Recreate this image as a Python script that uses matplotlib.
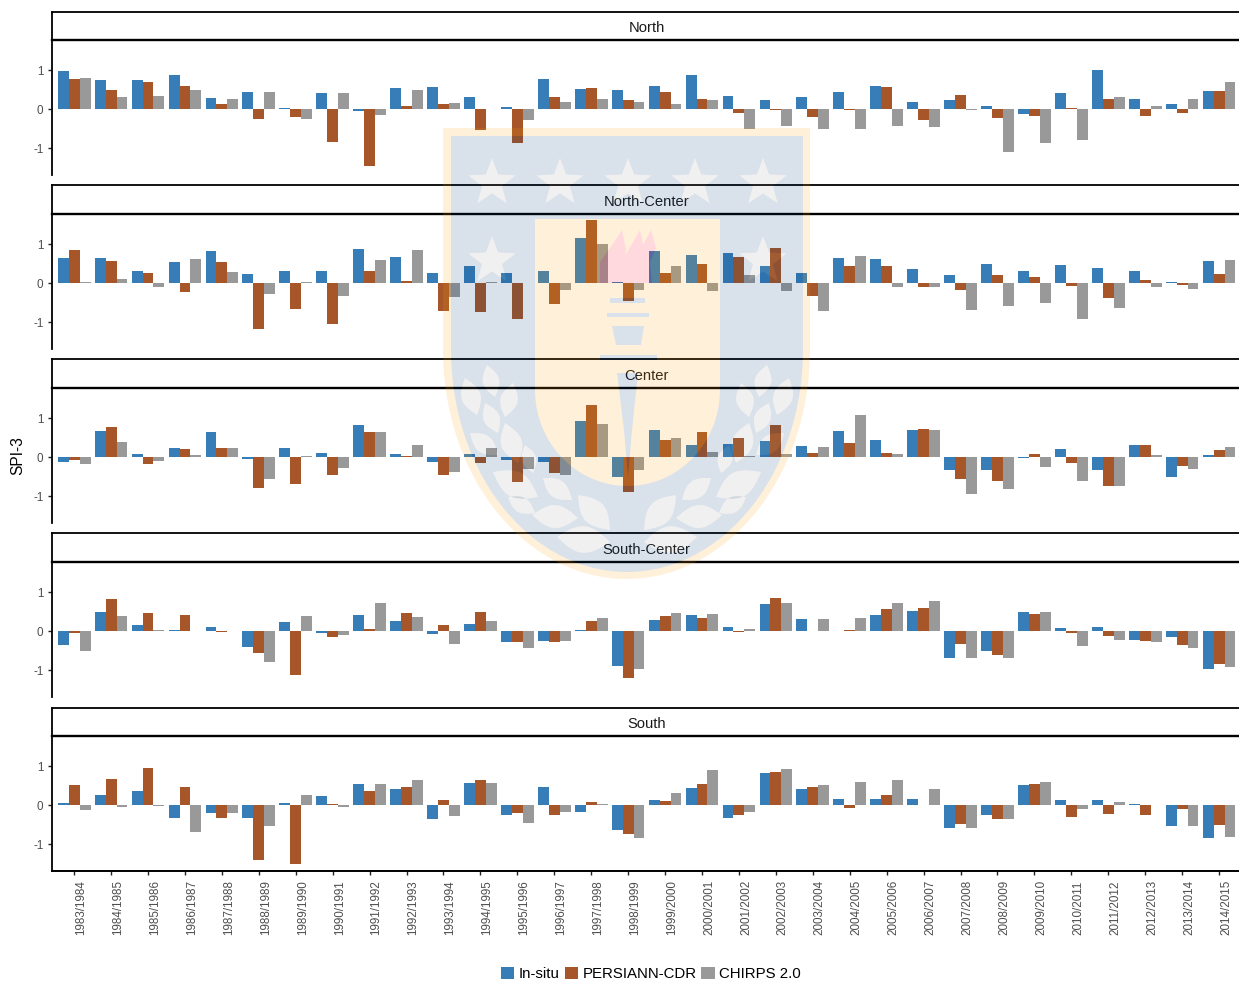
import numpy as np
import matplotlib
matplotlib.use("Agg")
import matplotlib.pyplot as plt
from matplotlib.patches import Patch, PathPatch
from matplotlib.path import Path
from matplotlib.transforms import ScaledTranslation

plt.rcParams["font.family"] = ["Liberation Sans", "DejaVu Sans"]

# DATA
seasons = [f"{y}/{y + 1}" for y in range(1983, 2015)]
regions = ["North", "North-Center", "Center", "South-Center", "South"]
products = ["In-situ", "PERSIANN-CDR", "CHIRPS 2.0"]

north_insitu = [.97, .74, .75, .87, .28, .43, .03, .41, -.06, .54, .56, .32, .05, .77, .51, .50,
                .60, .88, .34, .24, .31, .44, .60, .18, .23, .08, -.13, .41, 1.0, .26, .14, .47]
north_persiann = [.78, .48, .69, .59, .12, -.26, -.20, -.85, -1.47, .07, .12, -.53, -.88, .32, .55, .24,
                  .43, .26, -.11, -.02, -.21, -.02, .57, -.29, .37, -.23, -.18, .03, .26, -.17, -.09, .46]
north_chirps = [.80, .31, .33, .48, .26, .43, -.26, .41, -.16, .48, .16, -.01, -.27, .19, .26, .19,
                .12, .24, -.50, -.44, -.50, -.50, -.43, -.46, -.03, -1.09, -.87, -.79, .31, .08, .26, .70]

ncenter_insitu = [.64, .65, .32, .55, .81, .23, .32, .31, .88, .68, .26, .44, .27, .31, 1.15, .04,
                  .83, .72, .76, .43, .26, .65, .62, .36, .21, .49, .31, .47, .39, .31, .03, .56]
ncenter_persiann = [.84, .57, .26, -.23, .53, -1.19, -.67, -1.05, .32, .06, -.71, -.75, -.91, -.53, 1.61, -.46,
                    .26, .50, .66, .89, -.32, .45, .44, -.09, -.18, .21, .15, -.07, -.38, .09, -.06, .24]
ncenter_chirps = [.02, .10, -.09, .62, .28, -.29, .02, -.33, .59, .85, -.36, .03, -.01, -.18, 1.0, -.17,
                  .44, -.20, .21, -.20, -.72, .69, -.09, -.09, -.68, -.60, -.51, -.92, -.63, -.10, -.16, .60]

center_insitu = [-.12, .68, .08, .24, .65, -.05, .24, .10, .82, .08, -.12, .08, -.07, -.13, .92, -.51,
                 .69, .32, .34, .41, .29, .68, .43, .70, -.33, -.34, -.02, .21, -.32, .31, -.52, .05]
center_persiann = [-.08, .78, -.18, .21, .22, -.80, -.70, -.47, .63, .03, -.47, -.16, -.65, -.42, 1.33, -.90,
                   .43, .64, .50, .81, .11, .37, .10, .72, -.57, -.62, .08, -.15, -.74, .31, -.22, .18]
center_chirps = [-.17, .39, -.09, .05, .22, -.55, .02, -.27, .65, .30, -.39, .22, -.31, -.46, .85, -.32,
                 .50, .14, .04, .09, .26, 1.07, .09, .69, -.95, -.83, -.25, -.61, -.74, .05, -.30, .25]

scenter_insitu = [-.35, .48, .16, .03, .10, -.41, .22, -.05, .40, .26, -.08, .19, -.29, -.26, .03, -.89,
                  .28, .42, .10, .70, .30, .01, .42, .51, -.70, -.51, .50, .07, .11, -.22, -.14, -.97]
scenter_persiann = [-.05, .82, .46, .42, -.03, -.56, -1.12, -.15, .06, .47, .15, .49, -.27, -.29, .27, -1.21,
                    .38, .33, -.02, .85, -.01, .04, .56, .60, -.34, -.62, .45, -.06, -.12, -.26, -.35, -.84]
scenter_chirps = [-.50, .39, .02, 0, 0, -.79, .38, -.11, .73, .35, -.33, .26, -.43, -.25, .34, -.97,
                  .46, .44, .05, .73, .32, .33, .73, .78, -.70, -.70, .50, -.38, -.22, -.27, -.44, -.92]

south_insitu = [.05, .27, .35, -.33, -.20, -.33, .06, .22, .54, .42, -.35, .56, -.26, .46, -.19, -.65,
                .12, .43, -.33, .82, .41, .15, .15, .16, -.59, -.26, .52, .12, .14, .04, -.53, -.84]
south_persiann = [.52, .66, .94, .46, -.32, -1.42, -1.51, .03, .35, .47, .14, .65, -.20, -.25, .08, -.75,
                  .10, .53, -.26, .86, .46, -.08, .25, 0, -.49, -.35, .54, -.31, -.24, -.25, -.09, -.50]
south_chirps = [-.13, -.05, -.03, -.68, -.21, -.54, .25, -.04, .55, .63, -.28, .57, -.45, -.18, .02, -.85,
                .31, .89, -.19, .92, .52, .59, .64, .40, -.58, -.36, .60, -.10, .08, .01, -.53, -.83]

region_series = [
    [north_insitu, north_persiann, north_chirps],
    [ncenter_insitu, ncenter_persiann, ncenter_chirps],
    [center_insitu, center_persiann, center_chirps],
    [scenter_insitu, scenter_persiann, scenter_chirps],
    [south_insitu, south_persiann, south_chirps],
]

# STYLE
W, H = 1239, 983
colors = ["#377EB8", "#A65628", "#999999"]
axis_left = 52
strip_tops = [12, 185, 359, 533, 708]
panel_tops = [40, 214, 388, 562, 736]
panel_h = 135
bar_w = 0.295
x_pos = np.arange(len(seasons))


def px_axes(fig, x0, y0, x1, y1, **kw):
    return fig.add_axes([x0 / W, 1 - y1 / H, (x1 - x0) / W, (y1 - y0) / H], **kw)


fig = plt.figure(figsize=(W / 100, H / 100), dpi=100, facecolor="white")

# PANELS
for i, region in enumerate(regions):
    top = panel_tops[i]

    strip = px_axes(fig, axis_left, strip_tops[i], W + 5, top)
    strip.set_xticks([])
    strip.set_yticks([])
    strip.spines["right"].set_visible(False)
    for side in ["top", "left"]:
        strip.spines[side].set_linewidth(1.3)
    strip.spines["bottom"].set_linewidth(1.7)
    fig.text(646.5 / W, 1 - (top - 12.5) / H, region, ha="center", va="center",
             fontsize=10.6, color="#1a1a1a")

    ax = px_axes(fig, axis_left, top, W, top + panel_h)
    ax.patch.set_alpha(0)
    for k, vals in enumerate(region_series[i]):
        ax.bar(x_pos + (k - 1) * bar_w, vals, width=bar_w, color=colors[k], linewidth=0)
    ax.set_xlim(-0.6, 31.54)
    ax.set_ylim(-1.69, 1.77)
    ax.set_yticks([-1, 0, 1])
    ax.set_yticklabels(["-1", "0", "1"])
    ax.tick_params(axis="y", length=3.2, width=1.0, color="#222222", labelcolor="#4d4d4d",
                   labelsize=8.4, pad=3)
    for side in ["top", "right"]:
        ax.spines[side].set_visible(False)
    ax.spines["left"].set_linewidth(1.3)

    if i == len(regions) - 1:
        ax.spines["bottom"].set_linewidth(1.4)
        ax.set_xticks(x_pos)
        ax.set_xticklabels(seasons, rotation=90, ha="center", va="top")
        ax.tick_params(axis="x", length=3.2, width=1.0, color="#222222", labelcolor="#4d4d4d",
                       labelsize=8.4, pad=3.4)
        shift = ScaledTranslation(7 / 100, 0, fig.dpi_scale_trans)
        for lab in ax.get_xticklabels():
            lab.set_transform(lab.get_transform() + shift)
    else:
        ax.spines["bottom"].set_visible(False)
        ax.set_xticks([])

fig.text(18 / W, 1 - 456 / H, "SPI-3", rotation=90, ha="center", va="center", fontsize=11.2)

# LEGEND
handles = [Patch(facecolor=c, edgecolor="none", label=p) for c, p in zip(colors, products)]
fig.legend(handles=handles, ncol=3, loc="center", bbox_to_anchor=(651 / W, 1 - 974 / H),
           frameon=False, fontsize=10.85, handlelength=0.87, handleheight=0.85,
           handletextpad=0.3, columnspacing=0.33, borderpad=0, borderaxespad=0)


# WATERMARK (university crest laid over the whole figure, pixel coordinates)
def oriented(pts, ccw=True):
    pts = np.asarray(pts, dtype=float)
    x, y = pts[:, 0], pts[:, 1]
    area = np.sum(x * np.roll(y, -1) - np.roll(x, -1) * y)
    if (area > 0) != ccw:
        pts = pts[::-1]
    return Path(np.vstack([pts, pts[:1]]), closed=True)


def shield(x0, x1, top, mid, bottom):
    cx, a = (x0 + x1) / 2, (x1 - x0) / 2
    t = np.linspace(0, np.pi, 60)
    arc = np.column_stack([cx + a * np.cos(t), mid + (bottom - mid) * np.sin(t)])
    return np.vstack([[[x0, top], [x1, top]], arc])


def star(cx, cy, r):
    ang = -np.pi / 2 + np.arange(10) * np.pi / 5
    rad = np.where(np.arange(10) % 2 == 0, r, r * 0.42)
    return np.column_stack([cx + rad * np.cos(ang), cy + rad * np.sin(ang)])


def leaf(x0, y0, x1, y1, fat=0.25):
    t = np.linspace(0, 1, 16)
    d = np.array([x1 - x0, y1 - y0])
    n = np.array([-d[1], d[0]])
    base = np.array([x0, y0]) + t[:, None] * d
    bulge = (fat * np.sin(np.pi * t))[:, None] * n
    return np.vstack([base + bulge, (base - bulge)[::-1][1:-1]])


outer_s = shield(443, 810, 128, 350, 579)
blue_s = shield(451, 803, 136, 350, 572)
inner_s = shield(535, 720, 219, 390, 486)

star_pts = [star(x, 183, 25) for x in [492, 560, 628, 695, 763]]
star_pts += [star(492, 261, 25), star(763, 261, 25)]

# leaves of the left branch, the right one mirrors them
left_leaves = [(487, 365, 495, 397), (465, 378, 477, 415), (513, 383, 505, 417), (485, 403, 498, 433),
               (505, 423, 518, 463), (470, 433, 498, 455), (525, 445, 533, 473), (493, 472, 538, 497),
               (543, 478, 572, 500), (508, 497, 535, 513), (532, 515, 578, 518), (578, 495, 610, 530),
               (557, 537, 610, 542)]
leaf_pts = []
for x0, y0, x1, y1 in left_leaves:
    leaf_pts.append(leaf(x0, y0, x1, y1))
    leaf_pts.append(leaf(1254 - x0, y0, 1254 - x1, y1))

# one flame outline, the cream field is left open underneath it
flame_pts = [
    [(600, 283), (600, 262), (612, 245), (622, 230), (626, 250), (625, 256), (640, 230), (643, 245),
     (651, 230), (656, 248), (650, 262), (652, 283)],
]
torch_pts = [
    [(610, 298), (645, 298), (645, 303), (610, 303)],
    [(607, 313), (649, 313), (649, 317), (607, 317)],
    [(612, 326), (644, 326), (641, 345), (616, 345)],
    [(600, 355), (657, 355), (657, 360), (600, 360)],
    [(617, 373), (638, 373), (632, 430), (628, 477), (624, 430)],
]

cream_paths = [oriented(outer_s), oriented(blue_s, ccw=False), oriented(inner_s)]
cream_paths += [oriented(p, ccw=False) for p in flame_pts + torch_pts]
blue_paths = [oriented(blue_s), oriented(inner_s, ccw=False)]
blue_paths += [oriented(p, ccw=False) for p in star_pts + leaf_pts]
blue_paths += [oriented(p) for p in torch_pts]
pale_paths = [oriented(p) for p in star_pts + leaf_pts]
flame_paths = [oriented(p) for p in flame_pts]

over = fig.add_axes([0, 0, 1, 1], zorder=10)
over.set_xlim(0, W)
over.set_ylim(H, 0)
over.axis("off")
over.patch.set_alpha(0)
over.add_patch(PathPatch(Path.make_compound_path(*cream_paths), facecolor="#FF9B08", edgecolor="none", alpha=0.15))
over.add_patch(PathPatch(Path.make_compound_path(*blue_paths), facecolor="#003773", edgecolor="none", alpha=0.15))
over.add_patch(PathPatch(Path.make_compound_path(*pale_paths), facecolor="#888888", edgecolor="none", alpha=0.12))
over.add_patch(PathPatch(Path.make_compound_path(*flame_paths), facecolor="#FF0028", edgecolor="none", alpha=0.15))

fig.savefig("out.png", dpi=100)
